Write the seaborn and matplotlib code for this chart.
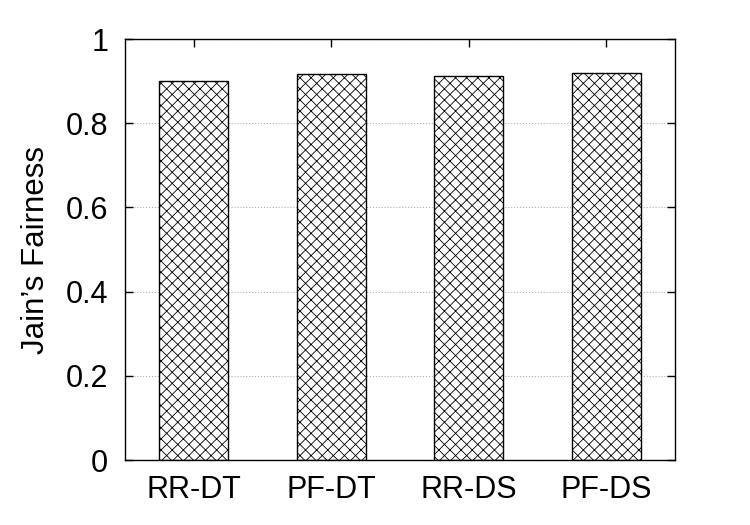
import pandas as pd
import matplotlib
matplotlib.use('Agg')
import matplotlib.pyplot as plt
import seaborn as sns

# Jain's fairness index per scheduler / mode
schemes = ['RR-DT', 'PF-DT', 'RR-DS', 'PF-DS']
fairness = [0.900, 0.917, 0.911, 0.919]

df = pd.DataFrame({'scheme': schemes, 'fairness': fairness})

sns.set_style('ticks')
plt.rcParams['font.family'] = ['Liberation Sans', 'DejaVu Sans']
plt.rcParams['hatch.color'] = '#606060'
plt.rcParams['hatch.linewidth'] = 0.6
plt.rcParams['text.color'] = 'black'
plt.rcParams['axes.labelcolor'] = 'black'
plt.rcParams['xtick.color'] = 'black'
plt.rcParams['ytick.color'] = 'black'

fig = plt.figure(figsize=(7.5, 5.25), dpi=100)
ax = fig.add_axes([0.1667, 0.1238, 0.7333, 0.8019])

sns.barplot(data=df, x='scheme', y='fairness', ax=ax, color='white',
            edgecolor='black', linewidth=1.0, width=0.5, saturation=1)
for bar in ax.patches:
    bar.set_hatch('xxx')
    bar.set_facecolor('white')
    bar.set_edgecolor('black')

ax.set_ylim(0, 1)
ax.set_xlim(-0.5, 3.5)
ax.set_yticks([0, 0.2, 0.4, 0.6, 0.8, 1])
ax.set_yticklabels(['0', '0.2', '0.4', '0.6', '0.8', '1'])
ax.yaxis.grid(True, linestyle=':', color='#b0b0b0', linewidth=0.8)
ax.set_axisbelow(True)

ax.set_xlabel('')
ax.set_ylabel("Jain\u2019s Fairness", fontsize=22.5, labelpad=11)
ax.tick_params(axis='both', direction='in', top=True, right=True,
               length=6, width=1, labelsize=22)
ax.tick_params(axis='y', pad=12)
ax.tick_params(axis='x', pad=11)
for s in ax.spines.values():
    s.set_linewidth(1.0)
    s.set_color('black')

fig.savefig('out.png', dpi=100)
